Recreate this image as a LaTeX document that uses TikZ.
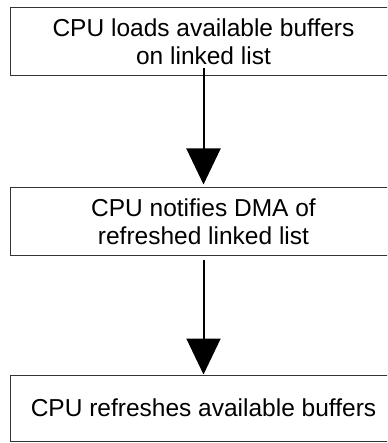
\documentclass[tikz,border=0pt]{standalone}
\usepackage{fontspec}
\setmainfont{Liberation Sans}
\usetikzlibrary{positioning,arrows.meta}

\tikzset{
  stepbox/.style={draw=black!80, line width=1pt, rectangle, minimum width=386pt,
    align=center, inner sep=0pt, font=\fontsize{24.5}{28}\selectfont},
  flow/.style={line width=2pt, -{Triangle[width=34pt,length=36pt]}}
}

\begin{document}
\begin{tikzpicture}[x=1pt, y=-1pt]
        \useasboundingbox (0, 0) rectangle (387, 443);
        \clip (0, 0) rectangle (387, 443);

        \node[stepbox, minimum height=68pt] (load) at (203.5, 42) {CPU loads available buffers\\on linked list};
        \node[stepbox, minimum height=67pt] (notify) at (203.5, 221.5) {CPU notifies DMA of\\refreshed linked list};
        \node[stepbox, minimum height=66pt] (refresh) at (203.5, 408) {CPU refreshes available buffers};

        \draw[flow, shorten >=3pt] ([yshift=8pt]load.south) -- (notify.north);
        \draw[flow] ([yshift=-4pt]notify.south) -- (refresh.north);
    \end{tikzpicture}
\end{document}
